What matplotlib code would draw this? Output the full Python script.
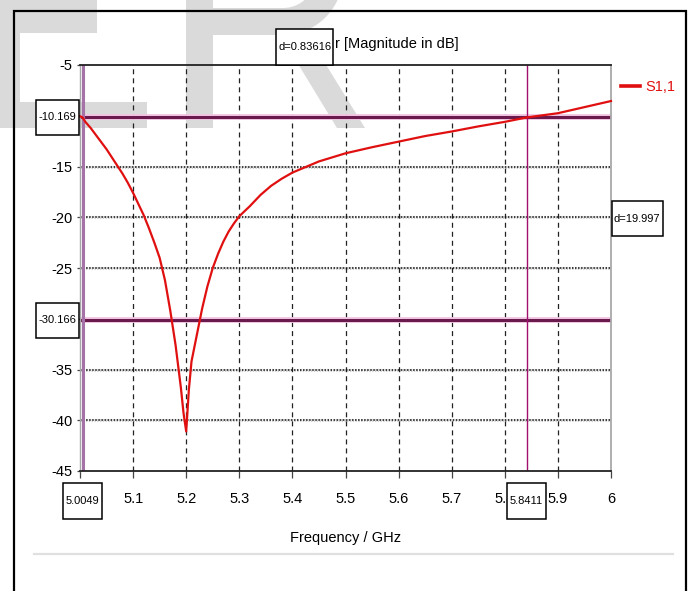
import numpy as np
import matplotlib
matplotlib.use("Agg")
import matplotlib.pyplot as plt
import matplotlib.transforms as mtransforms
from matplotlib.patches import Rectangle, Polygon
from matplotlib.lines import Line2D

plt.rcParams['font.family'] = ['Liberation Sans', 'DejaVu Sans']
plt.rcParams['lines.scale_dashes'] = False

# ---------------- data ----------------
freq = [5.000, 5.0049, 5.010, 5.020, 5.030, 5.040, 5.050, 5.060, 5.070, 5.080,
        5.090, 5.100, 5.110, 5.120, 5.130, 5.140, 5.150, 5.160, 5.170, 5.180,
        5.190, 5.195, 5.200, 5.205, 5.210, 5.220, 5.230, 5.240, 5.250, 5.260,
        5.270, 5.280, 5.290, 5.300, 5.320, 5.340, 5.360, 5.380, 5.400, 5.450,
        5.500, 5.550, 5.600, 5.650, 5.700, 5.750, 5.800, 5.8411, 5.900, 5.950,
        6.000]
s11 = [-10.05, -10.17, -10.6, -11.2, -11.9, -12.6, -13.3, -14.1, -14.9, -15.7,
       -16.6, -17.6, -18.7, -19.8, -21.1, -22.5, -24.0, -26.2, -29.2, -32.6,
       -36.8, -39.3, -41.1, -37.0, -34.2, -31.6, -29.0, -26.8, -25.0, -23.6,
       -22.4, -21.4, -20.6, -19.9, -18.9, -17.8, -16.9, -16.2, -15.6, -14.5,
       -13.7, -13.1, -12.55, -12.0, -11.55, -11.05, -10.6, -10.17, -9.75, -9.15,
       -8.55]
series_label = "S1,1"

marker_x = [5.0049, 5.8411]
marker_x_labels = ["5.0049", "5.8411"]
marker_y = [-10.169, -30.166]
marker_y_labels = ["-10.169", "-30.166"]
dx_label = "d=0.83616"
dy_label = "d=19.997"

# tick labels hidden behind the marker boxes are left empty
x_ticks = [5.0, 5.1, 5.2, 5.3, 5.4, 5.5, 5.6, 5.7, 5.8, 5.9, 6.0]
x_tick_labels = ["", "5.1", "5.2", "5.3", "5.4", "5.5", "5.6", "5.7", "5.8", "5.9", "6"]
y_ticks = [-5, -10, -15, -20, -25, -30, -35, -40, -45]
y_tick_labels = ["-5", "", "-15", "-20", "-25", "", "-35", "-40", "-45"]
title_text = "r [Magnitude in dB]"
xlabel_text = "Frequency / GHz"

# ---------------- figure ----------------
W, H = 691, 591
fig = plt.figure(figsize=(W / 100, H / 100), dpi=100)
fig.patch.set_facecolor('white')

def fx(px):
    return px / W

def fy(py):
    return 1 - py / H

ax = fig.add_axes([fx(80), fy(471), 531 / W, 406 / H])
ax.set_facecolor('none')
ax.set_xlim(5.0, 6.0)
ax.set_ylim(-45, -5)

FS = 10.5    # tick / title text
BFS = 8      # boxed marker text

# grid
for xv in x_ticks[1:-1]:
    ax.axvline(xv, color='#222222', lw=0.9, dashes=(3.6, 2.9), zorder=1)
for yv in y_ticks[1:-1]:
    ax.axhline(yv, color='#d0d0d0', lw=2.2, dashes=(1.0, 1.0), zorder=0.9)
    ax.axhline(yv, color='#111111', lw=1.1, dashes=(1.1, 1.1), zorder=1)

# spines
for s in ['top', 'bottom']:
    ax.spines[s].set_color('#222222')
    ax.spines[s].set_linewidth(1.3)
ax.spines['right'].set_color('#a8a8a8')
ax.spines['right'].set_linewidth(1.3)
ax.spines['left'].set_color('#a8a8a8')
ax.spines['left'].set_linewidth(1.0)

ax.set_xticks(x_ticks)
ax.set_xticklabels(x_tick_labels, fontsize=FS)
ax.set_yticks(y_ticks)
ax.set_yticklabels(y_tick_labels, fontsize=FS)
ax.tick_params(axis='x', length=5, width=0.9, color='#444444', pad=10)
ax.tick_params(axis='y', length=2.5, width=0.9, color='#444444', pad=3)

ax.set_xlabel(xlabel_text, fontsize=FS, va='center')
ax.xaxis.set_label_coords(0.5, -(538 - 471) / 406)

# marker lines
for yv in marker_y:
    ax.axhline(yv, color='#f2c6e4', lw=4.2, zorder=2)
    ax.axhline(yv, color='#6b1a4e', lw=2.2, zorder=2.1)
ax.axvline(marker_x[0], color='#a673a8', lw=2.2, zorder=2.2)
ax.axvline(marker_x[1], color='#a0106e', lw=1.0, zorder=2.2)

# curve
ax.plot(freq, s11, color='#e01010', lw=1.6, zorder=3, label=series_label, clip_on=False)

# legend
leg = ax.legend(loc='center left', bbox_to_anchor=(fx(621), fy(87)),
                bbox_transform=fig.transFigure, frameon=False, fontsize=FS,
                handlelength=1.3, handletextpad=0.35, borderpad=0, borderaxespad=0,
                labelcolor='#e01010')
for h in leg.get_lines():
    h.set_linewidth(2.6)

# boxed marker labels
def boxed(x, y, trans, w, h, text):
    t = mtransforms.ScaledTranslation(x, y, trans)
    rect = Rectangle((-w / 2, -h / 2), w, h, transform=mtransforms.Affine2D() + t,
                     facecolor='white', edgecolor='black', lw=1.1, clip_on=False, zorder=6)
    ax.add_artist(rect)
    ax.text(x, y, text, transform=trans, ha='center', va='center', fontsize=BFS,
            zorder=7, clip_on=False)

ytrans = mtransforms.blended_transform_factory(fig.transFigure, ax.transData)
xtrans = mtransforms.blended_transform_factory(ax.transData, fig.transFigure)
for yv, lab in zip(marker_y, marker_y_labels):
    boxed(fx(57.5), yv, ytrans, 43, 35, lab)
for xv, lab in zip(marker_x, marker_x_labels):
    boxed(xv, fy(501), xtrans, 39, 36, lab)
boxed(np.mean(marker_x), fy(47), xtrans, 57, 36, dx_label)
boxed(fx(637), np.mean(marker_y), ytrans, 51, 35, dy_label)

# title
fig.text(fx(335), fy(44), title_text, ha='left', va='center', fontsize=FS)

# separator line
fig.add_artist(Line2D([fx(34), fx(673)], [fy(554), fy(554)], color='#e0e0e0', lw=1.6,
                      transform=fig.transFigure))

# outer frame
fig.add_artist(Rectangle((fx(14), fy(640)), (686 - 14) / W, (640 - 11) / H,
                         transform=fig.transFigure, facecolor='none', edgecolor='black',
                         lw=1.6, clip_on=False, zorder=8))

# watermark (light gray letters behind the chart)
wm = '#dadada'
def poly(points):
    pts = [(fx(px), fy(py)) for px, py in points]
    fig.add_artist(Polygon(pts, closed=True, transform=fig.transFigure,
                           facecolor=wm, edgecolor='none', zorder=-1))

poly([(0, 0), (97, 0), (97, 33), (20, 33), (20, 102), (147, 102), (147, 128), (0, 128)])
poly([(186, 0), (213, 0), (213, 128), (186, 128)])
th = np.linspace(0, np.pi / 2, 30)
cx, cy = 283, -25
outer = [(cx + 60 * np.sin(a), cy + 60 * np.cos(a)) for a in th]
inner = [(cx + 33 * np.sin(a), cy + 33 * np.cos(a)) for a in th]
poly([(213, 8), (cx, cy + 33)] + inner[1:] + outer[::-1] + [(213, 35)])
poly([(264, 8), (291, 8), (365, 128), (337, 128)])

fig.savefig("out.png", dpi=100, facecolor='white')
